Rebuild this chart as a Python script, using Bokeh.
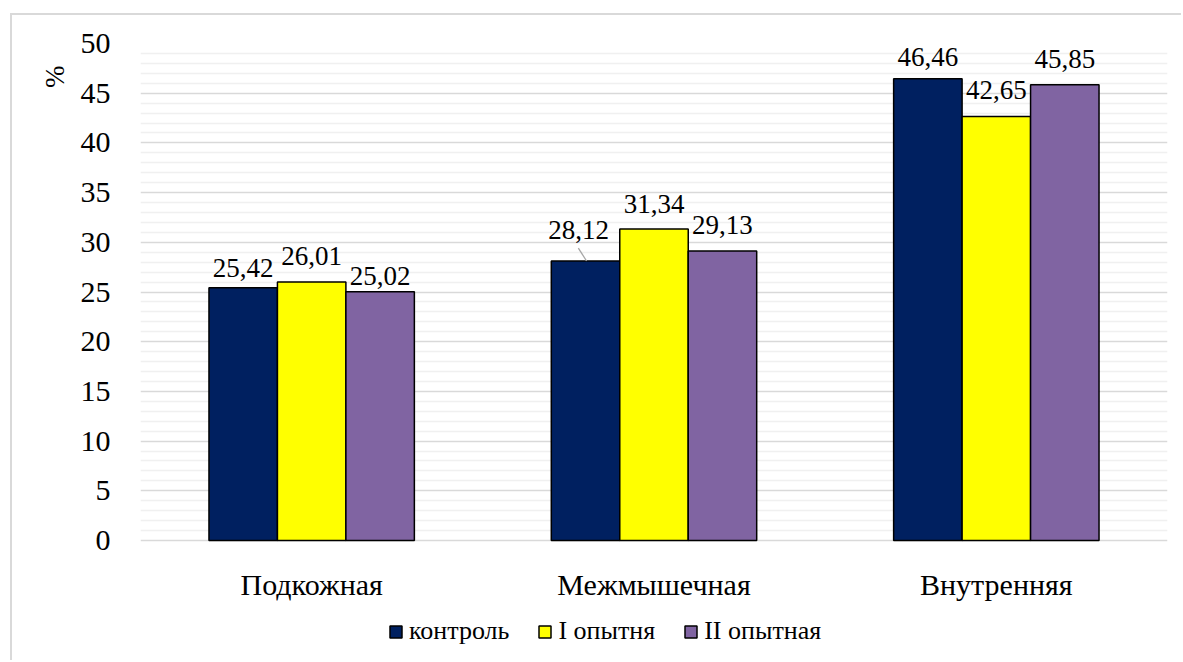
from bokeh.plotting import figure
from bokeh.models import (ColumnDataSource, FactorRange, Range1d, FixedTicker,
                          Legend, LegendItem, Title)
from bokeh.transform import dodge
from bokeh.core.properties import value
from bokeh.embed import file_html
from bokeh.resources import INLINE

# Fat deposits by location, %
categories = ["Подкожная", "Межмышечная", "Внутренняя"]
series_names = ["контроль", "I опытня", "II опытная"]
kontrol = [25.42, 28.12, 46.46]
opyt_1 = [26.01, 31.34, 42.65]
opyt_2 = [25.02, 29.13, 45.85]
series_values = [kontrol, opyt_1, opyt_2]
y_major_ticks = [0, 5, 10, 15, 20, 25, 30, 35, 40, 45, 50]
y_max = 50

colors = ["#002060", "#FFFF00", "#8064A2"]
dodges = [-0.2, 0.0, 0.2]
# pixel lift of each value label above its bar (per series, per category)
label_lift = [[20, 31, 22], [26, 25, 27], [16, 26, 26]]
label_shift = [[0, -7, 0], [0, 0, 0], [0, 0, 0]]

FONT = "Liberation Serif"

# frame geometry: value axis occupies 497 px, category labels + legend sit
# in the 122 px strip below zero inside the frame
PLOT_PX, STRIP_PX = 497, 122
y_bottom = -y_max * STRIP_PX / PLOT_PX

p = figure(x_range=FactorRange(*categories, range_padding=0),
           y_range=Range1d(y_bottom, y_max),
           width=1171, height=647, output_backend="svg", toolbar_location=None,
           min_border_left=128, min_border_right=16, min_border_top=28,
           min_border_bottom=0, outline_line_color=None,
           background_fill_color="white", border_fill_color="white")
p.margin = (13, 0, 0, 10)
p.styles = {"border-top": "2px solid #d9d9d9", "border-left": "2px solid #d9d9d9"}

minor = [v for v in range(1, y_max) if v % 5]
ticker = FixedTicker(ticks=y_major_ticks, minor_ticks=minor)
p.yaxis.ticker = ticker
p.ygrid.ticker = ticker
p.xgrid.visible = False
p.xaxis.visible = False
p.ygrid.grid_line_color = "#d9d9d9"
p.ygrid.grid_line_width = 1.3
p.ygrid.minor_grid_line_color = "#f0f0f0"
p.ygrid.minor_grid_line_width = 1.3

yax = p.yaxis[0]
yax.axis_line_color = None
yax.major_tick_line_color = None
yax.minor_tick_line_color = None
yax.major_label_text_font = FONT
yax.major_label_text_font_size = "30px"
yax.major_label_text_color = "black"
yax.major_label_standoff = 24

# category names under the groups
cat_src = ColumnDataSource(dict(cat=categories, y=[0] * len(categories)))
p.text(x="cat", y="y", text="cat", source=cat_src, y_offset=44,
       text_font=value(FONT), text_font_size="30px", text_color="black",
       text_align="center", text_baseline="alphabetic")

legend_items = []
for i, name in enumerate(series_names):
    vals = series_values[i]
    src = ColumnDataSource(dict(
        cat=categories,
        val=vals,
        txt=[f"{v:.2f}".replace(".", ",") for v in vals],
        lift=[-l for l in label_lift[i]],
        shift=label_shift[i],
    ))
    r = p.vbar(x=dodge("cat", dodges[i], range=p.x_range), top="val", width=0.2,
               source=src, fill_color=colors[i], line_color="black", line_width=1.5)
    p.text(x=dodge("cat", dodges[i], range=p.x_range), y="val", text="txt",
           x_offset="shift", y_offset="lift", source=src,
           text_font=value(FONT), text_font_size="27px", text_color="black",
           text_align="center", text_baseline="alphabetic")
    legend_items.append(LegendItem(label=name, renderers=[r]))

# leader line for the lifted control label in the second group
lead = ColumnDataSource(dict(cat=[categories[1]], y0=[kontrol[1]], y1=[kontrol[1] + 1.3]))
p.segment(x0=dodge("cat", dodges[0] + 0.003, range=p.x_range), y0="y0",
          x1=dodge("cat", dodges[0] - 0.021, range=p.x_range), y1="y1",
          source=lead, line_color="#a6a6a6", line_width=1.3)

legend = Legend(items=legend_items, orientation="horizontal", location=(248, 16),
                label_text_font=FONT, label_text_font_size="26px",
                label_text_color="black", glyph_width=15, glyph_height=15,
                label_standoff=6, spacing=28, padding=0, margin=0,
                background_fill_alpha=0, border_line_color=None)
p.add_layout(legend, "center")

p.add_layout(Title(text="%", align="right", offset=22, standoff=15,
                   text_font=FONT, text_font_size="27px", text_font_style="normal",
                   text_color="black"), "left")

open("out.html", "w").write(file_html(p, INLINE))
